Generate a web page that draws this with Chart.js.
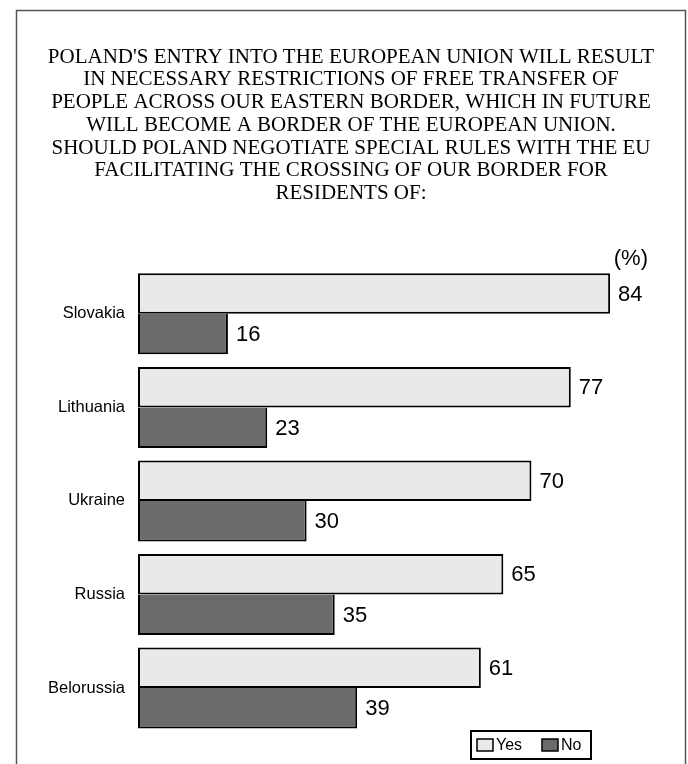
<!DOCTYPE html>
<html>
<head>
<meta charset="utf-8">
<script src="https://cdn.jsdelivr.net/npm/chart.js@4.4.1/dist/chart.umd.min.js"></script>
<style>
  html, body { margin: 0; padding: 0; background: #fff; }
  #wrap { width: 688px; height: 764px; position: relative; }
</style>
</head>
<body>
<div id="wrap"><canvas id="chart" width="688" height="764"></canvas></div>
<script>
// Survey answers per neighbouring country (%)
const countries = ['Slovakia', 'Lithuania', 'Ukraine', 'Russia', 'Belorussia'];
const yesValues = [84, 77, 70, 65, 61];
const noValues = [16, 23, 30, 35, 39];
const seriesNames = ['Yes', 'No'];
const titleLines = [
  "POLAND'S ENTRY INTO THE EUROPEAN UNION WILL RESULT",
  'IN NECESSARY RESTRICTIONS OF FREE TRANSFER OF',
  'PEOPLE ACROSS OUR EASTERN BORDER, WHICH IN FUTURE',
  'WILL BECOME A BORDER OF THE EUROPEAN UNION.',
  'SHOULD POLAND NEGOTIATE SPECIAL RULES WITH THE EU',
  'FACILITATING THE CROSSING OF OUR BORDER FOR',
  'RESIDENTS OF:'
];
const unitLabel = '(%)';

const SANS = 'Liberation Sans, Arial, sans-serif';

// Outer frame, value labels, unit label and boxed legend
const decorations = {
  id: 'decorations',
  beforeDraw(chart) {
    const ctx = chart.ctx;
    ctx.save();
    ctx.fillStyle = '#fff';
    ctx.fillRect(0, 0, chart.width, chart.height);
    ctx.strokeStyle = '#555';
    ctx.lineWidth = 1.5;
    ctx.beginPath();
    ctx.moveTo(16.5, chart.height + 5);
    ctx.lineTo(16.5, 10.5);
    ctx.lineTo(685.5, 10.5);
    ctx.lineTo(685.5, chart.height + 5);
    ctx.stroke();
    ctx.restore();
  },
  afterDatasetsDraw(chart) {
    const ctx = chart.ctx;
    const area = chart.chartArea;
    ctx.save();
    ctx.fillStyle = '#000';
    ctx.font = '22px ' + SANS;
    ctx.textBaseline = 'middle';
    ctx.textAlign = 'left';
    chart.data.datasets.forEach((ds, i) => {
      chart.getDatasetMeta(i).data.forEach((bar, j) => {
        ctx.fillText(String(ds.data[j]), bar.x + 8, bar.y + 1);
      });
    });
    // unit label above the plot, right-aligned near the longest bar's label
    ctx.textAlign = 'right';
    ctx.fillText(unitLabel, area.right - 38, area.top - 8);

    // legend box
    const lx = 471, ly = 731, lw = 120, lh = 28;
    ctx.fillStyle = '#fff';
    ctx.fillRect(lx, ly, lw, lh);
    ctx.strokeStyle = '#000';
    ctx.lineWidth = 2;
    ctx.strokeRect(lx, ly, lw, lh);
    const items = [{ x: 477, name: seriesNames[0], ds: 0 }, { x: 542, name: seriesNames[1], ds: 1 }];
    ctx.font = '16px ' + SANS;
    ctx.textAlign = 'left';
    items.forEach(it => {
      const ds = chart.data.datasets[it.ds];
      ctx.fillStyle = ds.backgroundColor;
      ctx.fillRect(it.x, ly + 8, 16, 12);
      ctx.lineWidth = 1.5;
      ctx.strokeStyle = '#000';
      ctx.strokeRect(it.x, ly + 8, 16, 12);
      ctx.fillStyle = '#000';
      ctx.fillText(it.name, it.x + 19, ly + lh / 2 + 1);
    });
    ctx.restore();
  }
};

new Chart(document.getElementById('chart'), {
  type: 'bar',
  data: {
    labels: countries,
    datasets: [
      {
        label: seriesNames[0],
        data: yesValues,
        backgroundColor: '#e9e9e9',
        borderColor: '#000',
        borderWidth: 2,
        borderSkipped: false
      },
      {
        label: seriesNames[1],
        data: noValues,
        backgroundColor: '#6b6b6b',
        borderColor: '#000',
        borderWidth: 2,
        borderSkipped: 'top'
      }
    ]
  },
  options: {
    indexAxis: 'y',
    responsive: false,
    animation: false,
    devicePixelRatio: 1,
    datasets: { bar: { categoryPercentage: 0.866, barPercentage: 1 } },
    layout: { padding: { top: 0, left: 16, right: 2, bottom: 29.25 } },
    plugins: {
      legend: { display: false },
      tooltip: { enabled: false },
      title: {
        display: true,
        text: titleLines,
        color: '#000',
        font: { family: 'Liberation Serif, Times New Roman, serif', size: 21, weight: 'normal', lineHeight: 1.085 },
        padding: { top: 45.6, bottom: 62 }
      }
    },
    scales: {
      x: {
        min: 0,
        max: 97.5,
        display: false
      },
      y: {
        grid: { display: false, drawTicks: false },
        border: { display: false },
        ticks: { color: '#000', font: { family: SANS, size: 16.5 }, padding: 13 },
        afterFit(scale) { scale.width = 122; }
      }
    }
  },
  plugins: [decorations]
});
</script>
</body>
</html>
